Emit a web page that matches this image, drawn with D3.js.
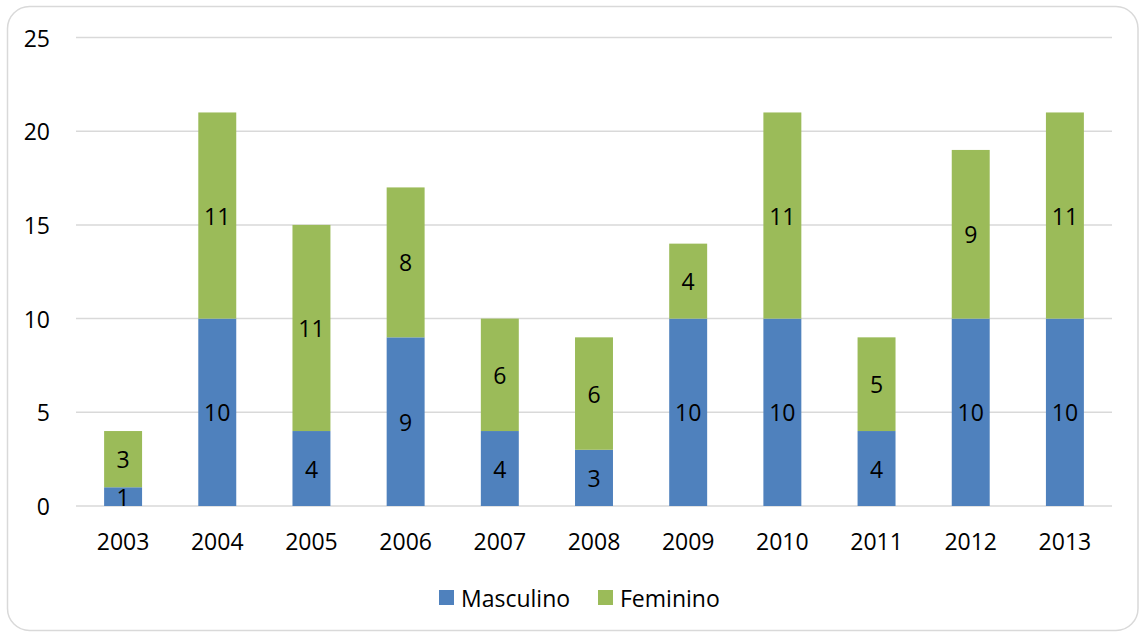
<!DOCTYPE html>
<html>
<head>
<meta charset="utf-8">
<script src="https://cdn.jsdelivr.net/npm/d3@7"></script>
<style>
  html, body { margin: 0; padding: 0; background: #fff; }
  svg text { font-family: "Open Sans", "Liberation Sans", sans-serif; fill: #000; }
</style>
</head>
<body>
<svg id="chart" width="1142" height="633"></svg>
<script>
// Number of cases per year, split by sex
const years = ["2003","2004","2005","2006","2007","2008","2009","2010","2011","2012","2013"];
const masculino = [1, 10, 4, 9, 4, 3, 10, 10, 4, 10, 10];
const feminino  = [3, 11, 11, 8, 6, 6, 4, 11, 5, 9, 11];
const yTicks = [0, 5, 10, 15, 20, 25];
const seriesNames = ["Masculino", "Feminino"];
const colors = ["#4f81bd", "#9bbb59"];

const svg = d3.select("#chart");

// outer frame
svg.append("rect")
  .attr("x", 7.5).attr("y", 6.5)
  .attr("width", 1130.5).attr("height", 624)
  .attr("rx", 22).attr("ry", 22)
  .attr("fill", "#fff").attr("stroke", "#d9d9d9").attr("stroke-width", 1.5);

const plotLeft = 76, plotRight = 1112, plotTop = 37.5, plotBottom = 506;

const x = d3.scaleBand().domain(years).range([plotLeft, plotRight]).paddingInner(0.597).paddingOuter(0.2985);
const y = d3.scaleLinear().domain([0, 25]).range([plotBottom, plotTop]);

// gridlines
svg.append("g").selectAll("line").data(yTicks).join("line")
  .attr("x1", plotLeft).attr("x2", plotRight)
  .attr("y1", d => y(d)).attr("y2", d => y(d))
  .attr("stroke", "#d9d9d9").attr("stroke-width", 1.5);

// y tick labels
svg.append("g").selectAll("text").data(yTicks).join("text")
  .attr("x", 50).attr("y", d => y(d))
  .attr("text-anchor", "end").attr("dominant-baseline", "central")
  .attr("font-size", 23)
  .text(d => d);

// stacked data
const rows = years.map((yr, i) => ({ year: yr, Masculino: masculino[i], Feminino: feminino[i] }));
const stacked = d3.stack().keys(seriesNames)(rows);

const layers = svg.append("g").selectAll("g").data(stacked).join("g")
  .attr("fill", (d, i) => colors[i]);

layers.selectAll("rect").data(d => d).join("rect")
  .attr("x", d => x(d.data.year))
  .attr("width", x.bandwidth())
  .attr("y", d => y(d[1]))
  .attr("height", d => y(d[0]) - y(d[1]));

// value labels centred in each segment
layers.selectAll("text").data(d => d.map(v => ({ v, key: d.key }))).join("text")
  .attr("x", d => x(d.v.data.year) + x.bandwidth() / 2)
  .attr("y", d => y((d.v[0] + d.v[1]) / 2))
  .attr("text-anchor", "middle").attr("dominant-baseline", "central")
  .attr("font-size", 23)
  .style("fill", "#000")
  .text(d => d.v.data[d.key]);

// x category labels
svg.append("g").selectAll("text").data(years).join("text")
  .attr("x", d => x(d) + x.bandwidth() / 2)
  .attr("y", 541)
  .attr("text-anchor", "middle").attr("dominant-baseline", "central")
  .attr("font-size", 23)
  .text(d => d);

// legend
const legend = svg.append("g");
const legendX = [439, 598];
seriesNames.forEach((name, i) => {
  legend.append("rect")
    .attr("x", legendX[i]).attr("y", 590)
    .attr("width", 15).attr("height", 15)
    .attr("fill", colors[i]);
  legend.append("text")
    .attr("x", legendX[i] + 22).attr("y", 597.5)
    .attr("dominant-baseline", "central")
    .attr("font-size", 23)
    .text(name);
});
</script>
</body>
</html>
